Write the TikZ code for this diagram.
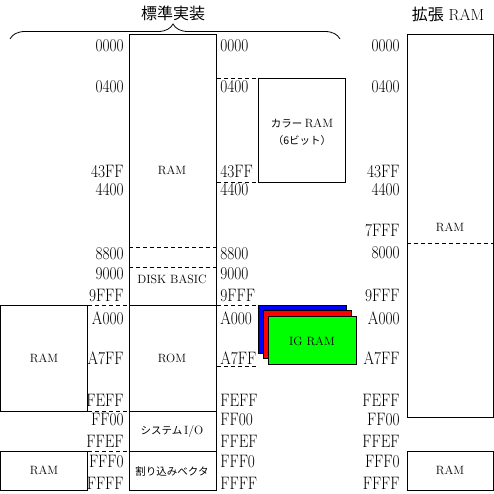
\documentclass[tikz,border=0pt]{standalone}
\usepackage{fontspec}
\newfontfamily\jpfont{Noto Sans CJK JP}
\usepackage{tikz}
\usetikzlibrary{decorations.pathreplacing}
\newcommand{\addrfont}{\fontsize{18}{18}\selectfont}
\newcommand{\boxfont}{\fontsize{12}{13}\selectfont}
\newcommand{\jpboxfont}{\jpfont\fontsize{10.5}{13}\selectfont}
\newcommand{\titlefont}{\fontsize{16}{18}\selectfont}
\tikzset{
    addr/.style={font=\addrfont, xscale=0.85, inner sep=0pt},
    boxtext/.style={font=\boxfont, inner sep=0pt},
    jptext/.style={font=\jpboxfont, inner sep=0pt},
    gap/.style={dash pattern=on 4pt off 3pt}
}

\begin{document}
\begin{tikzpicture}[x=1pt, y=-1pt, line width=0.8pt]
        \useasboundingbox (0,0) rectangle (494,493);
        %titoli
        \node[font=\titlefont, inner sep=0pt] (stdtitle) at (173,13) {\jpfont 標準実装};
        \node[font=\titlefont, inner sep=0pt] (exttitle) at (448,14) {{\jpfont 拡張} RAM};
        \draw[decorate, decoration={brace, amplitude=15pt, aspect=0.494}] (10,39) -- (340,39);
        %colonna standard
        \draw (129,34) rectangle (216,490);
        \draw[gap] (129,247) -- (216,247);
        \draw[gap] (129,267) -- (216,267);
        \draw (0.5,305) -- (87,305) (129,305) -- (216,305);
        \draw (129,411) -- (216,411);
        \draw (129,451) -- (216,451);
        \node[boxtext] (stdram) at (172,170) {RAM};
        \node[boxtext] (disk) at (172,279) {DISK BASIC};
        \node[boxtext] (rom) at (172,358) {ROM};
        \node[jptext] (sysio) at (172,431) {システム\,{\rmfamily\boxfont I/O}};
        \node[jptext] (vect) at (172,471) {割り込みベクタ};
        %tratteggi laterali
        \draw[gap] (88,305) -- (128,305);
        \draw[gap] (88,411) -- (128,411);
        \draw[gap] (88,451) -- (128,451);
        \draw[gap] (217,78) -- (258,78);
        \draw[gap] (217,182) -- (258,182);
        \draw[gap] (217,305) -- (258,305);
        \draw[gap] (217,366) -- (258,366);
        %ram a sinistra
        \draw (0.5,305) rectangle (87,411);
        \draw (0.5,451) rectangle (87,490);
        \node[boxtext] (leftram) at (44,358) {RAM};
        \node[boxtext] (leftvram) at (44,470) {RAM};
        %ram colore
        \draw (258,78) rectangle (345,182);
        \node[jptext] (color) at (302,123) {カラー\ {\rmfamily\boxfont RAM}};
        \node[jptext] (bits) at (302,141) {（6ビット）};
        %ig ram
        \filldraw[fill=blue] (258,305) rectangle (346,353);
        \filldraw[fill=red] (263,310) rectangle (351,358);
        \filldraw[fill=green] (268,316) rectangle (356,364);
        \node[boxtext] (igram) at (312,341) {IG RAM};
        %ram esteso
        \draw (407,34) rectangle (493.5,417);
        \draw[gap] (407,243) -- (493.5,243);
        \draw (407,451) rectangle (493.5,490);
        \node[boxtext] (extram) at (450,227) {RAM};
        \node[boxtext] (extvram) at (450,470) {RAM};
        %indirizzi
        \foreach \a/\y in {0000/46, 0400/87, 43FF/172, 4400/190, 8800/254, 9000/274, 9FFF/296, A000/318, A7FF/358, FEFF/400, FF00/420, FFEF/441, FFF0/462, FFFF/483}{
            \node[addr, anchor=east] (l\a) at (124,\y) {\a};
            \node[addr, anchor=west] (r\a) at (220,\y) {\a};
        }
        \foreach \a/\y in {0000/46, 0400/87, 43FF/172, 4400/190, 7FFF/231, 8000/253, 9FFF/296, A000/318, A7FF/358, FEFF/400, FF00/420, FFEF/441, FFF0/462, FFFF/483}{
            \node[addr, anchor=east] (e\a) at (400,\y) {\a};
        }
    \end{tikzpicture}
\end{document}
